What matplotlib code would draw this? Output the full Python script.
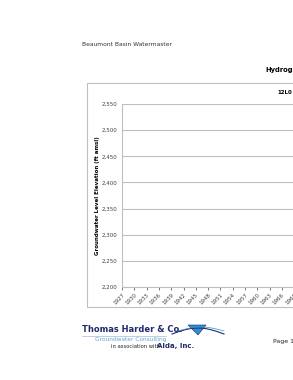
import matplotlib.pyplot as plt
import matplotlib.ticker as mticker
from matplotlib.patches import Rectangle, Polygon
import numpy as np

# Data
tahun_tick = list(range(1927, 1970, 3))
elevasi_tick = [2200, 2250, 2300, 2350, 2400, 2450, 2500, 2550]
x_min, x_max = 1927, 2012
y_min, y_max = 2200, 2550

W, H = 293, 380
fig = plt.figure(figsize=(W / 100, H / 100), dpi=100)
fig.patch.set_facecolor('white')


def fx(px):
    return px / W


def fy(py):
    return 1 - py / H


# Header
fig.text(fx(82), fy(44), 'Beaumont Basin Watermaster', fontsize=4.3,
         color='#333333', va='center', ha='left')
fig.text(fx(265), fy(70), 'Hydrog', fontsize=4.9, fontweight='bold',
         color='black', va='center', ha='left')

# Chart border
fig.add_artist(Rectangle((fx(87), fy(307)), fx(260), fy(83) - fy(307),
                         transform=fig.transFigure, fill=False,
                         edgecolor='#bfbfbf', linewidth=0.8))
fig.text(fx(277), fy(92), '12L0', fontsize=4.0, fontweight='bold',
         color='black', va='center', ha='left')

# Axes (extends beyond the right edge, like the cropped page)
px_per_year = 4.1
ax_w = (x_max - x_min) * px_per_year
ax = fig.add_axes([fx(122), fy(287), fx(ax_w), fy(104) - fy(287)])
ax.set_xlim(x_min, x_max)
ax.set_ylim(y_min, y_max)
ax.set_yticks(elevasi_tick)
ax.yaxis.set_major_formatter(mticker.FuncFormatter(lambda v, p: f'{int(v):,}'))
ax.set_xticks(tahun_tick)
ax.set_xticklabels([str(t) for t in tahun_tick], rotation=45, ha='right',
                   rotation_mode='anchor')
ax.tick_params(axis='both', labelsize=4, colors='#404040', length=2,
               width=0.5, pad=1.5)
ax.tick_params(axis='y', length=0, pad=3)
ax.grid(axis='y', color='#bfbfbf', linewidth=0.8)
ax.set_axisbelow(True)
for s in ['top', 'right']:
    ax.spines[s].set_visible(False)
ax.spines['left'].set_color('#bfbfbf')
ax.spines['bottom'].set_color('#bfbfbf')
ax.spines['left'].set_linewidth(0.8)
ax.spines['bottom'].set_linewidth(0.8)
ax.set_ylabel('Groundwater Level Elevation (ft amsl)', fontsize=4,
              fontweight='bold')
ax.yaxis.set_label_coords(-0.064, 0.5)

# Footer logo
fig.text(fx(82), fy(330), 'Thomas Harder & Co.', fontsize=6,
         fontweight='bold', color='#1f2a6b', va='center', ha='left')
fig.add_artist(plt.Line2D([fx(82), fx(166)], [fy(336), fy(336)],
                          transform=fig.transFigure, color='#9aa4c8',
                          linewidth=0.4))
fig.text(fx(95), fy(340), 'Groundwater Consulting', fontsize=4.2,
         color='#5fa8d8', va='center', ha='left')
fig.text(fx(111), fy(346), 'in association with', fontsize=3.8,
         color='#222222', va='center', ha='left')
fig.text(fx(157), fy(346), 'Alda, Inc.', fontsize=5, fontweight='bold',
         color='#1f2a6b', va='center', ha='left')
fig.add_artist(Polygon([[fx(188), fy(325)], [fx(206), fy(325)],
                        [fx(198), fy(335)]], closed=True,
                       transform=fig.transFigure, facecolor='#2f8fd0',
                       edgecolor='#1f2a6b', linewidth=0.4))
t = np.linspace(0, 1, 30)
fig.add_artist(plt.Line2D(fx(172 + 52 * t), fy(334 - 6 * np.sin(np.pi * t)),
                          transform=fig.transFigure, color='#1f2a6b',
                          linewidth=0.8))
fig.add_artist(plt.Line2D(fx(178 + 46 * t), fy(331 - 4 * np.sin(np.pi * t)),
                          transform=fig.transFigure, color='#2f8fd0',
                          linewidth=0.5))
fig.text(fx(273), fy(341), 'Page 1', fontsize=4.5, color='#222222',
         va='center', ha='left')

plt.savefig('out.png', dpi=100)
